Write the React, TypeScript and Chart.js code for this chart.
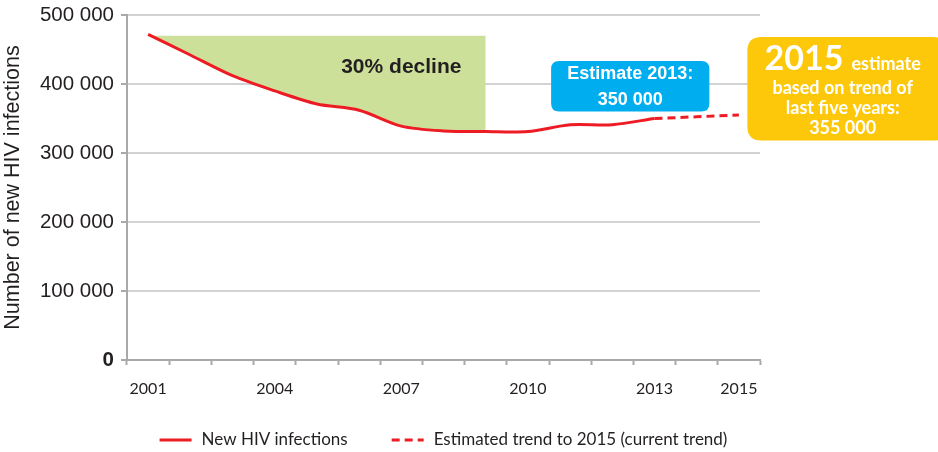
import React, { useEffect, useRef } from 'react';
import { Chart, registerables } from 'chart.js';

Chart.register(...registerables);

const years = ['2001', '2002', '2003', '2004', '2005', '2006', '2007', '2008', '2009', '2010', '2011', '2012', '2013', '2014', '2015'];
const shownYearLabels = ['2001', '2004', '2007', '2010', '2013', '2015'];
const newInfections = [472000, 442000, 412000, 390000, 371000, 362000, 339000, 332000, 331000, 331000, 341000, 341000, 350000, null, null];
const estimatedTrend = [null, null, null, null, null, null, null, null, null, null, null, null, 350000, 352500, 355000];
const declineTop = [470000, 470000, 470000, 470000, 470000, 470000, 470000, 470000, 470000, null, null, null, null, null, null];
const yTickValues = [0, 100000, 200000, 300000, 400000, 500000];

const RED = '#ed1c24';
const GREEN = '#cde09a';
const BLUE = '#00aeef';
const YELLOW = '#fdc80a';
const TEXT = '#231f20';
const ARIAL = "'Liberation Sans', Arial, sans-serif";
const LATO = "Lato, 'Noto Sans', sans-serif";

const fmt = (v: number) => String(v).replace(/\B(?=(\d{3})+(?!\d))/g, ' ');

function roundRect(ctx: CanvasRenderingContext2D, x: number, y: number, w: number, h: number, r: number) {
  ctx.beginPath();
  ctx.moveTo(x + r, y);
  ctx.lineTo(x + w - r, y);
  ctx.quadraticCurveTo(x + w, y, x + w, y + r);
  ctx.lineTo(x + w, y + h - r);
  ctx.quadraticCurveTo(x + w, y + h, x + w - r, y + h);
  ctx.lineTo(x + r, y + h);
  ctx.quadraticCurveTo(x, y + h, x, y + h - r);
  ctx.lineTo(x, y + r);
  ctx.quadraticCurveTo(x, y, x + r, y);
  ctx.closePath();
}

const annotationPlugin = {
  id: 'annotationPlugin',
  afterDatasetsDraw(chart: any) {
    const { ctx, scales } = chart;
    const x = scales.x;
    const y = scales.y;
    ctx.save();
    ctx.fillStyle = TEXT;
    ctx.font = `bold 21px ${ARIAL}`;
    ctx.textAlign = 'center';
    ctx.textBaseline = 'middle';
    ctx.fillText('30% decline', x.getPixelForValue(6.0), y.getPixelForValue(425000));
    ctx.restore();
  },
  afterDraw(chart: any) {
    const { ctx, scales } = chart;
    const x = scales.x;
    const y = scales.y;
    ctx.save();
    // Blue box
    const bx0 = x.getPixelForValue(9.55);
    const bx1 = x.getPixelForValue(13.3);
    const by0 = y.getPixelForValue(433500);
    const by1 = y.getPixelForValue(360000);
    ctx.fillStyle = BLUE;
    roundRect(ctx, bx0, by0, bx1 - bx0, by1 - by0, 8);
    ctx.fill();
    ctx.fillStyle = '#ffffff';
    ctx.textAlign = 'center';
    ctx.textBaseline = 'middle';
    ctx.font = `bold 18px ${ARIAL}`;
    const bcx = (bx0 + bx1) / 2;
    ctx.fillText('Estimate 2013:', bcx, by0 + 13.5);
    ctx.fillText('350 000', bcx, by0 + 39);

    // Yellow box
    const yx0 = x.getPixelForValue(14.2);
    const yx1 = chart.width + 10;
    const yy0 = y.getPixelForValue(468000);
    const yy1 = y.getPixelForValue(318000);
    ctx.fillStyle = YELLOW;
    roundRect(ctx, yx0, yy0, yx1 - yx0, yy1 - yy0, 14);
    ctx.fill();
    const ycx = (yx0 + 938) / 2;
    ctx.fillStyle = '#ffffff';
    ctx.textBaseline = 'alphabetic';
    ctx.textAlign = 'left';
    ctx.font = `bold 34px ${LATO}`;
    const w1 = ctx.measureText('2015').width;
    ctx.font = `bold 18px ${LATO}`;
    const w2 = ctx.measureText('estimate').width;
    const gap = 8;
    const startX = ycx - (w1 + gap + w2) / 2;
    ctx.font = `bold 34px ${LATO}`;
    ctx.fillText('2015', startX, yy0 + 33);
    ctx.font = `bold 18px ${LATO}`;
    ctx.fillText('estimate', startX + w1 + gap, yy0 + 33);
    ctx.textAlign = 'center';
    ctx.textBaseline = 'middle';
    ctx.fillText('based on trend of', ycx, yy0 + 51);
    ctx.fillText('last five years:', ycx, yy0 + 71);
    ctx.fillText('355 000', ycx, yy0 + 91);
    ctx.restore();
  },
};

const legendPlugin = {
  id: 'customLegend',
  afterDraw(chart: any) {
    const { ctx, chartArea } = chart;
    const items = [chart.data.datasets[0], chart.data.datasets[1]];
    ctx.save();
    ctx.font = `17px ${LATO}`;
    const sample = 32;
    const textGap = 10;
    const itemGap = 44;
    const widths = items.map((d: any) => sample + textGap + ctx.measureText(d.label).width);
    const total = widths[0] + itemGap + widths[1];
    let cx = (chartArea.left + chartArea.right) / 2 - total / 2;
    const cy = 440;
    items.forEach((d: any, i: number) => {
      ctx.strokeStyle = d.borderColor;
      ctx.lineWidth = 3;
      ctx.setLineDash(d.borderDash || []);
      ctx.beginPath();
      ctx.moveTo(cx, cy);
      ctx.lineTo(cx + sample, cy);
      ctx.stroke();
      ctx.setLineDash([]);
      ctx.fillStyle = TEXT;
      ctx.textAlign = 'left';
      ctx.textBaseline = 'middle';
      ctx.fillText(d.label, cx + sample + textGap, cy);
      cx += widths[i] + itemGap;
    });
    ctx.restore();
  },
};

export default function App() {
  const canvasRef = useRef<HTMLCanvasElement | null>(null);

  useEffect(() => {
    if (!canvasRef.current) return;
    const chart = new Chart(canvasRef.current, {
      type: 'line',
      data: {
        labels: years,
        datasets: [
          {
            label: 'New HIV infections',
            data: newInfections,
            borderColor: RED,
            backgroundColor: RED,
            borderWidth: 3,
            pointRadius: 0,
            tension: 0.3,
            fill: false,
            spanGaps: false,
          },
          {
            label: 'Estimated trend to 2015 (current trend)',
            data: estimatedTrend,
            borderColor: RED,
            backgroundColor: RED,
            borderWidth: 3,
            borderDash: [8, 5],
            pointRadius: 0,
            tension: 0,
            fill: false,
          },
          {
            label: 'decline',
            data: declineTop,
            borderColor: 'rgba(0,0,0,0)',
            backgroundColor: GREEN,
            borderWidth: 0,
            pointRadius: 0,
            tension: 0,
            fill: 0,
          },
        ],
      },
      options: {
        responsive: false,
        animation: false,
        layout: { padding: { top: 15, right: 178, bottom: 47, left: 0 } },
        plugins: {
          legend: { display: false },
          tooltip: { enabled: false },
        },
        scales: {
          x: {
            offset: true,
            grid: {
              offset: true,
              drawOnChartArea: false,
              drawTicks: true,
              tickLength: 5,
              tickColor: '#a7a9ac',
              tickWidth: 2,
            },
            border: { display: true, color: '#a7a9ac', width: 2 },
            ticks: {
              autoSkip: false,
              maxRotation: 0,
              padding: 14,
              color: TEXT,
              font: { family: LATO, size: 16 },
              callback: (_v: any, i: number) => (shownYearLabels.includes(years[i]) ? years[i] : ''),
            },
            afterFit: (scale: any) => {
              scale.height = 45;
              scale.paddingLeft = 0;
              scale.paddingRight = 0;
            },
          },
          y: {
            min: 0,
            max: 500000,
            afterBuildTicks: (scale: any) => {
              scale.ticks = yTickValues.map((v) => ({ value: v }));
            },
            grid: {
              color: '#d1d3d4',
              lineWidth: 2,
              tickLength: 6,
              tickColor: '#a7a9ac',
              tickWidth: 2,
            },
            border: { display: true, color: '#a7a9ac', width: 2 },
            ticks: {
              padding: 7,
              color: TEXT,
              font: (c: any) => ({ family: ARIAL, size: 20.5, weight: c.tick && c.tick.value === 0 ? 'bold' : 'normal' }),
              callback: (v: any) => fmt(Number(v)),
            },
            title: {
              display: true,
              text: 'Number of new HIV infections',
              color: TEXT,
              font: { family: ARIAL, size: 21.5 },
              padding: { top: 0, bottom: 0 },
            },
            afterFit: (scale: any) => {
              scale.width = 127;
              scale.paddingTop = 0;
              scale.paddingBottom = 0;
            },
          },
        },
      },
      plugins: [annotationPlugin, legendPlugin],
    } as any);
    return () => chart.destroy();
  }, []);

  return (
    <div style={{ position: 'absolute', left: 0, top: 0, width: 938, height: 452, background: '#ffffff' }}>
      <canvas ref={canvasRef} width={938} height={452} style={{ display: 'block' }} />
    </div>
  );
}
